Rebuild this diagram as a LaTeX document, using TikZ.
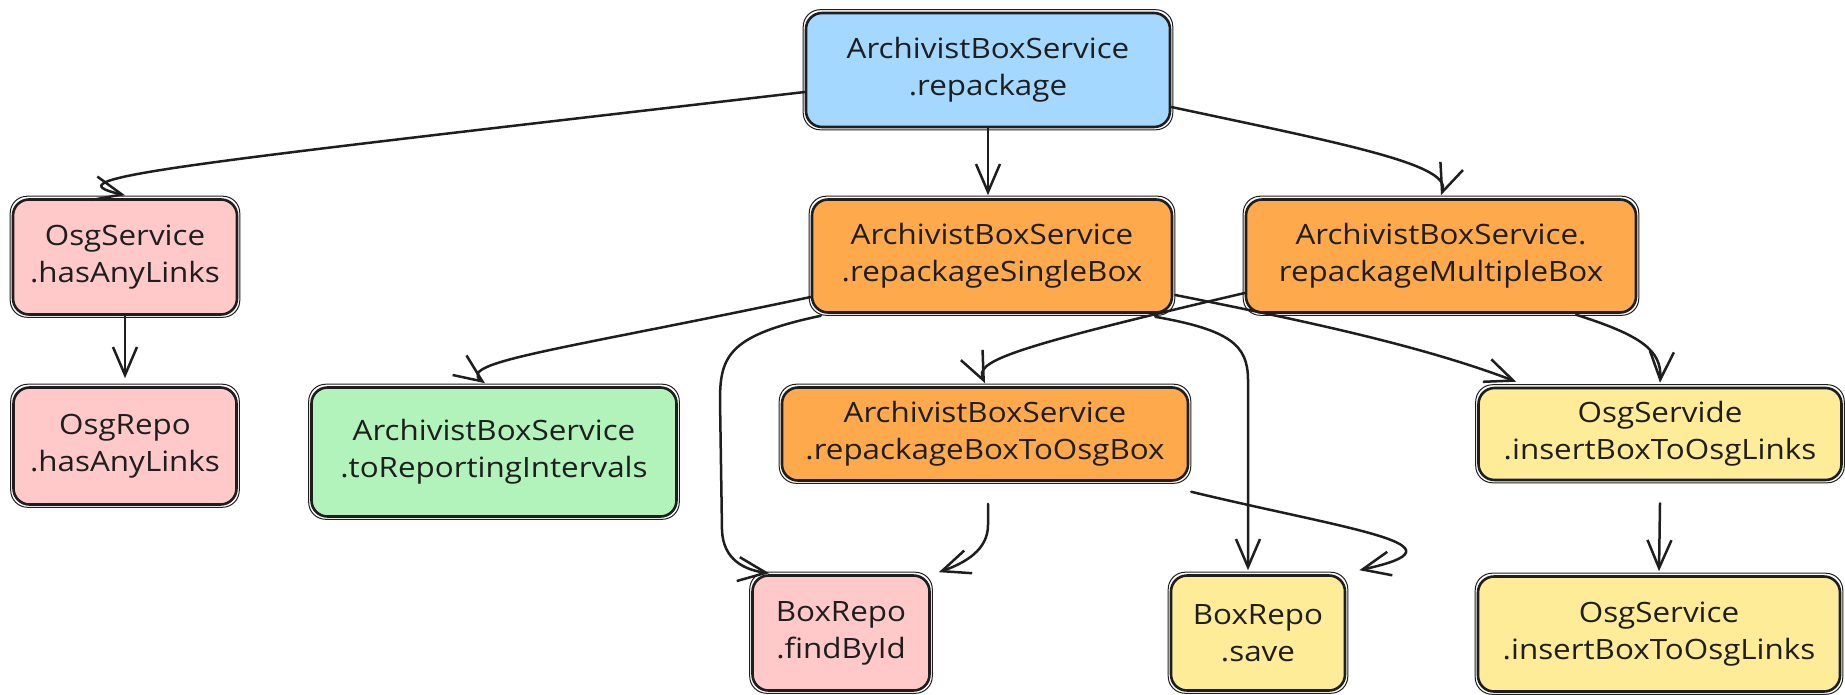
\documentclass[tikz,border=0pt]{standalone}
\usepackage{fontspec}
\setmainfont[FakeStretch=1.12]{Open Sans}
\usetikzlibrary{arrows.meta,calc}

\definecolor{ink}{HTML}{1E1E1E}
\definecolor{fillblue}{HTML}{A5D8FF}
\definecolor{fillpink}{HTML}{FFC9C9}
\definecolor{fillorange}{HTML}{FFA94D}
\definecolor{fillgreen}{HTML}{B2F2BB}
\definecolor{fillyellow}{HTML}{FFEC99}

\begin{document}
\begin{tikzpicture}[x=1pt,y=1pt,
  box/.style={draw=ink, line width=2.6pt, rounded corners=16pt, align=center,
    inner sep=0pt, text=ink, font=\fontsize{28}{37}\selectfont},
  bluebox/.style={box, fill=fillblue},
  pinkbox/.style={box, fill=fillpink},
  orangebox/.style={box, fill=fillorange},
  greenbox/.style={box, fill=fillgreen},
  yellowbox/.style={box, fill=fillyellow},
  conn/.style={draw=ink, line width=2.5pt, line cap=round,
    -{Straight Barb[length=28pt, width=24pt, line width=2.5pt]}},
  sketchline/.style={draw=ink, line width=1pt, rounded corners=17pt}
]
\useasboundingbox (0,0) rectangle (1845,-694);

% call-graph nodes
\node[bluebox,   minimum width=364pt, minimum height=114pt] (root)     at (988,-70)  {ArchivistBoxService\\.repackage};
\node[pinkbox,   minimum width=224pt, minimum height=115pt] (osgSvc)   at (125,-257) {OsgService\\.hasAnyLinks};
\node[orangebox, minimum width=360pt, minimum height=113pt] (single)   at (992,-256) {ArchivistBoxService\\.repackageSingleBox};
\node[orangebox, minimum width=390pt, minimum height=113pt] (multi)    at (1441,-256) {ArchivistBoxService.\\repackageMultipleBox};
\node[pinkbox,   minimum width=223pt, minimum height=117pt] (osgRepo)  at (125,-446) {OsgRepo\\.hasAnyLinks};
\node[greenbox,  minimum width=365pt, minimum height=129pt] (intervals) at (494,-452) {ArchivistBoxService\\.toReportingIntervals};
\node[orangebox, minimum width=406pt, minimum height=93pt]  (toOsg)    at (985,-434) {ArchivistBoxService\\.repackageBoxToOsgBox};
\node[yellowbox, minimum width=363pt, minimum height=92pt]  (servide)  at (1660,-434) {OsgServide\\.insertBoxToOsgLinks};
\node[pinkbox,   minimum width=177pt, minimum height=115pt] (findById) at (841,-633) {BoxRepo\\.findById};
\node[yellowbox, minimum width=174pt, minimum height=115pt] (save)     at (1258,-633) {BoxRepo\\.save};
\node[yellowbox, minimum width=362pt, minimum height=115pt] (insertLinks) at (1659,-634) {OsgService\\.insertBoxToOsgLinks};

% second, thinner outline for a hand-drawn feel
\foreach \n in {root,osgSvc,single,multi,osgRepo,intervals,toOsg,servide,findById,save,insertLinks}
  \draw[sketchline] ($(\n.south west)+(-1.5,-1.5)$) rectangle ($(\n.north east)+(1.5,2)$);

% connectors
\draw[conn] ($(root.west)+(0,-22)$) .. controls (150,-168) and (50,-178) .. ($(osgSvc.north)+(0,3)$);
\draw[conn] (root.south) -- ($(root.south |- single.north)+(0,3)$);
\draw[conn] ($(root.east)+(0,-37)$) .. controls (1350,-145) and (1452,-165) .. ($(multi.north)+(0,3)$);
\draw[conn] (osgSvc.south) -- ($(osgRepo.north)+(0,8)$);
\draw[conn] ($(single.west)+(0,-41)$) .. controls (560,-350) and (455,-362) .. ($(intervals.north)+(-9,3)$);
\draw[conn] ($(single.south west)+(10,-2)$) .. controls (730,-335) and (720,-355) .. (720,-400)
            -- (722,-530) .. controls (723,-560) and (745,-570) .. ($(findById.north west)+(18,1)$);
\draw[conn] ($(single.south east)+(-18,-3)$) .. controls (1230,-330) and (1248,-345) .. (1248,-380)
            -- ($(save.north)+(-10,4)$);
\draw[conn] ($(single.east)+(2,-39)$) .. controls (1300,-320) and (1420,-345) .. ($(servide.north west)+(39,5)$);
\draw[conn] ($(multi.west)+(0,-37)$) .. controls (1000,-350) and (975,-362) .. ($(toOsg.north)+(0,3)$);
\draw[conn] ($(multi.south east)+(-61,-1)$) .. controls (1640,-335) and (1662,-350) .. ($(servide.north)+(0,4)$);
\draw[conn] ($(toOsg.south)+(3,-22)$) -- (988,-525) .. controls (988,-550) and (965,-563) .. ($(findById.north east)+(8,2)$);
\draw[conn] ($(toOsg.south east)+(2,-10)$) .. controls (1350,-530) and (1475,-545) .. ($(save.north east)+(13,4)$);
\draw[conn] ($(servide.south)+(0,-22)$) -- ($(insertLinks.north)+(0,4)$);
\end{tikzpicture}
\end{document}
